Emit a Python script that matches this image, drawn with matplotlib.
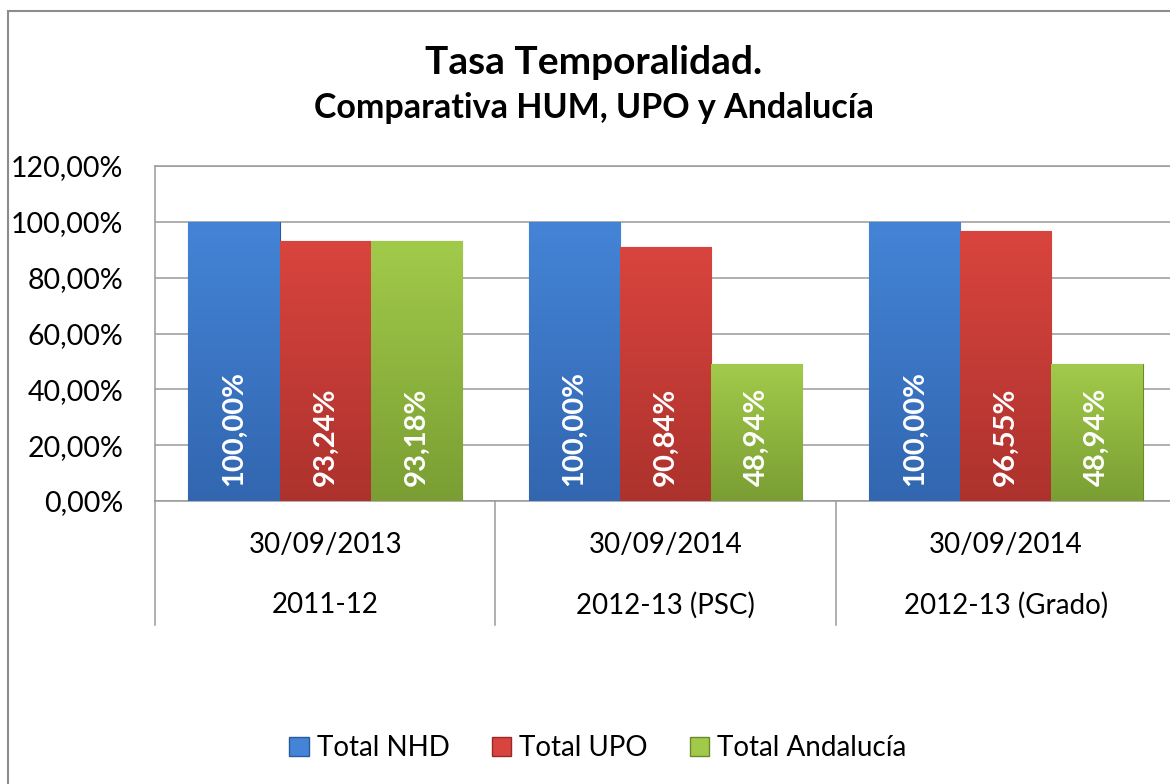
import numpy as np
import matplotlib
matplotlib.use("Agg")
import matplotlib.pyplot as plt
from matplotlib.patches import Rectangle, Patch
from matplotlib.colors import LinearSegmentedColormap
from matplotlib.ticker import FuncFormatter, MultipleLocator

plt.rcParams['font.family'] = ['Lato', 'DejaVu Sans']

# data
dates = ["30/09/2013", "30/09/2014", "30/09/2014"]
courses = ["2011-12", "2012-13 (PSC)", "2012-13 (Grado)"]
series_names = ["Total NHD", "Total UPO", "Total Andalucía"]
total_nhd = [100.00, 100.00, 100.00]
total_upo = [93.24, 90.84, 96.55]
total_andalucia = [93.18, 48.94, 48.94]

# (top colour, bottom colour, edge)
colors = [("#4484d6", "#3266b0", "#2a5a9c"),
          ("#d9443e", "#ad322d", "#962a26"),
          ("#a2ca4a", "#7a9e33", "#6a8a2a")]

fig = plt.figure(figsize=(11.7, 7.84), dpi=100)

# outer chart frame (runs off the right / bottom edge)
fig.patches.append(Rectangle((8 / 1170, -0.05), 1.2, 1 - 11 / 784 + 0.05,
                             transform=fig.transFigure, fill=False,
                             edgecolor="#8c8c8c", lw=1.5))

ax = fig.add_axes([155 / 1170, 1 - 501 / 784, 1021 / 1170, 335 / 784])

width = 0.268
x = np.arange(3) + 0.5
all_vals = [total_nhd, total_upo, total_andalucia]

for i, vals in enumerate(all_vals):
    top, bot, edge = colors[i]
    cmap = LinearSegmentedColormap.from_list("g%d" % i, [bot, top])
    bars = ax.bar(x + (i - 1) * width, vals, width, color=top,
                  edgecolor=edge, linewidth=0.8, zorder=3)
    for b, v in zip(bars, vals):
        x0 = b.get_x()
        grad = np.linspace(0, 1, 100).reshape(-1, 1)
        im = ax.imshow(grad, extent=[x0, x0 + b.get_width(), 0, v],
                       origin="lower", aspect="auto", cmap=cmap, zorder=3.5)
        im.set_clip_path(b)
        ax.annotate(("%.2f%%" % v).replace(".", ","), (b.get_x() + b.get_width() / 2, 0),
                    xytext=(0, 11), textcoords="offset points",
                    rotation=90, rotation_mode="anchor", ha="left", va="center",
                    color="white", fontsize=21, fontweight="bold", zorder=5)

ax.set_xlim(0, 3)
ax.set_ylim(0, 120)

ax.yaxis.set_major_locator(MultipleLocator(20))
ax.yaxis.set_major_formatter(FuncFormatter(lambda v, p: ("%.2f%%" % v).replace(".", ",")))
ax.tick_params(axis="y", labelsize=20.5, length=0, pad=23)
ax.set_xticks([])
ax.grid(axis="y", color="#9a9a9a", lw=1.1, zorder=0)
for s in ax.spines.values():
    s.set_color("#9a9a9a")
    s.set_linewidth(1.1)

# two-level category axis
tr = ax.get_xaxis_transform()
for xs in [0, 1, 2, 3]:
    ax.plot([xs, xs], [0, -0.37], color="#9a9a9a", lw=1.1, transform=tr, clip_on=False)
for xi, d, c in zip(x, dates, courses):
    ax.text(xi, -0.131, d, transform=tr, ha="center", va="center", fontsize=20)
    ax.text(xi, -0.31, c, transform=tr, ha="center", va="center", fontsize=20)

fig.text(594 / 1170, 1 - 62 / 784, "Tasa Temporalidad.", ha="center", va="center",
         fontsize=28, fontweight="bold")
fig.text(594 / 1170, 1 - 108 / 784, "Comparativa HUM, UPO y Andalucía", ha="center",
         va="center", fontsize=24.5, fontweight="bold")

handles = [Patch(facecolor=c[0], edgecolor=c[2]) for c in colors]
fig.legend(handles, series_names, loc="center", bbox_to_anchor=(598 / 1170, 1 - 748 / 784),
           ncol=3, frameon=False, fontsize=20, handlelength=0.7, handleheight=0.7,
           handletextpad=0.3, columnspacing=1.5)

fig.savefig("out.png", dpi=100)
